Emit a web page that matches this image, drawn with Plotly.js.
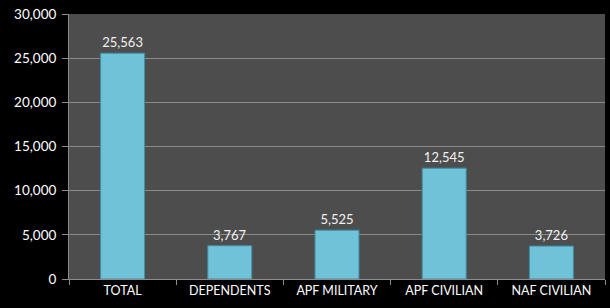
<!DOCTYPE html>
<html>
<head>
<meta charset="utf-8">
<script src="https://cdn.plot.ly/plotly-3.0.1.min.js"></script>
<style>html,body{margin:0;padding:0;background:#000;}#chart{width:610px;height:308px;}</style>
</head>
<body>
<div id="chart"></div>
<script>
const categories = ["TOTAL", "DEPENDENTS", "APF MILITARY", "APF CIVILIAN", "NAF CIVILIAN"];
const values = [25563, 3767, 5525, 12545, 3726];
const labels = ["25,563", "3,767", "5,525", "12,545", "3,726"];

const trace = {
  type: "bar",
  x: categories,
  y: values,
  text: labels,
  textposition: "outside",
  cliponaxis: false,
  textfont: {family: "Lato, 'Open Sans', sans-serif", size: 13, color: "#f2f2f2"},
  marker: {color: "#6fc2d8", line: {color: "#3f8fa6", width: 1}},
  hoverinfo: "none"
};

const layout = {
  width: 610, height: 308,
  paper_bgcolor: "#000000",
  plot_bgcolor: "#4d4d4d",
  margin: {l: 69, r: 5, t: 14, b: 29},
  bargap: 0.59,
  showlegend: false,
  font: {family: "Lato, 'Open Sans', sans-serif", color: "#ffffff", size: 12},
  xaxis: {
    type: "category",
    tickson: "boundaries",
    ticks: "outside", ticklen: 5, tickcolor: "#8c8c8c",
    showline: true, linecolor: "#8c8c8c", linewidth: 1,
    showgrid: false, zeroline: false,
    tickfont: {size: 12.5, color: "#ffffff"}
  },
  yaxis: {
    range: [0, 30000], dtick: 5000, tickformat: ",",
    ticks: "outside", ticklen: 6, tickcolor: "#8c8c8c",
    ticklabelstandoff: 3,
    showline: true, linecolor: "#8c8c8c", linewidth: 1,
    gridcolor: "#8a8a8a", gridwidth: 1, zeroline: false,
    tickfont: {size: 13.5, color: "#ffffff"}
  }
};

Plotly.newPlot("chart", [trace], layout, {staticPlot: true, displayModeBar: false});
</script>
</body>
</html>
